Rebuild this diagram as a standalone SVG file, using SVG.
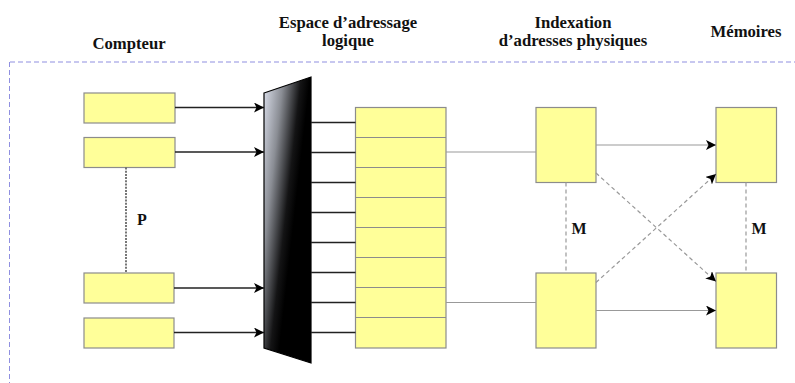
<svg xmlns="http://www.w3.org/2000/svg" width="795" height="383" viewBox="0 0 795 383">
  <style>
    .box { fill: #ffff99; stroke: #8c8c8c; stroke-width: 1.2; }
    .head { font-family: "Liberation Serif", "Times New Roman", serif; font-weight: bold; font-size: 16.7px; fill: #111; text-anchor: middle; }
    .lbl { font-family: "Liberation Serif", "Times New Roman", serif; font-weight: bold; font-size: 16px; fill: #111; text-anchor: middle; }
    .frame { fill: none; stroke: #8f8fe0; stroke-width: 1; stroke-dasharray: 5 3; }
    .dark { stroke: #222; stroke-width: 1.4; fill: none; }
    .thin { stroke: #999; stroke-width: 1.2; fill: none; }
    .dash { stroke: #999; stroke-width: 1.2; fill: none; stroke-dasharray: 4 3; }
    .dot { stroke: #555; stroke-width: 1.6; fill: none; stroke-dasharray: 2 1.2; }
  </style>
  <defs>
    <marker id="arrow" viewBox="0 0 10 10" refX="10" refY="5" markerWidth="10" markerHeight="10" markerUnits="userSpaceOnUse" orient="auto">
      <path d="M0,0 L10,5 L0,10 L2.5,5 Z" fill="#000"/>
    </marker>
    <linearGradient id="muxFill" gradientUnits="userSpaceOnUse" x1="264" y1="92" x2="308" y2="97">
      <stop offset="0" stop-color="#d6dae6"/>
      <stop offset="0.4" stop-color="#8a8d94"/>
      <stop offset="0.8" stop-color="#141415"/>
      <stop offset="1" stop-color="#000"/>
    </linearGradient>
  </defs>

  <!-- column headings -->
  <g id="headings">
    <text class="head" x="129" y="49">Compteur</text>
    <text class="head" x="348" y="28">Espace d’adressage</text>
    <text class="head" x="348" y="46">logique</text>
    <text class="head" x="573" y="28">Indexation</text>
    <text class="head" x="573" y="46">d’adresses physiques</text>
    <text class="head" x="746" y="37">Mémoires</text>
  </g>

  <!-- dashed frame -->
  <g id="frame">
    <line class="frame" x1="10" y1="62" x2="795" y2="62"/>
    <line class="frame" x1="9.5" y1="62" x2="9.5" y2="383"/>
  </g>

  <!-- counter registers -->
  <g id="counter-1"><rect class="box" x="84" y="93" width="91" height="30"/></g>
  <g id="counter-2"><rect class="box" x="84" y="137.5" width="91" height="30"/></g>
  <g id="counter-3"><rect class="box" x="84" y="273" width="90" height="30"/></g>
  <g id="counter-4"><rect class="box" x="84" y="318" width="90" height="30"/></g>
  <g id="label-p"><text class="lbl" x="142" y="225">P</text></g>

  <!-- multiplexer -->
  <g id="mux">
    <polygon points="264,93 311,77 311,363 264,348" fill="url(#muxFill)" stroke="#000" stroke-width="1.2"/>
  </g>

  <!-- logical address table -->
  <g id="logical-space">
    <rect class="box" x="355.5" y="107.5" width="90.5" height="240.5"/>
    <g stroke="#8c8c8c" stroke-width="1.2">
      <line x1="355.5" y1="137.5" x2="446" y2="137.5"/>
      <line x1="355.5" y1="167.5" x2="446" y2="167.5"/>
      <line x1="355.5" y1="197.5" x2="446" y2="197.5"/>
      <line x1="355.5" y1="227.5" x2="446" y2="227.5"/>
      <line x1="355.5" y1="257.5" x2="446" y2="257.5"/>
      <line x1="355.5" y1="287.5" x2="446" y2="287.5"/>
      <line x1="355.5" y1="317.5" x2="446" y2="317.5"/>
    </g>
  </g>

  <!-- physical address indexes -->
  <g id="index-1"><rect class="box" x="536" y="107.5" width="60" height="75"/></g>
  <g id="index-2"><rect class="box" x="536" y="273" width="60" height="75"/></g>
  <g id="label-m1"><text class="lbl" x="579" y="234">M</text></g>

  <!-- memories -->
  <g id="memory-1"><rect class="box" x="716" y="107.5" width="60.5" height="75"/></g>
  <g id="memory-2"><rect class="box" x="716" y="273" width="60.5" height="75"/></g>
  <g id="label-m2"><text class="lbl" x="759" y="234">M</text></g>

  <!-- connectors -->
  <g id="connectors">
    <line class="dark" x1="175" y1="107.5" x2="264" y2="107.5" marker-end="url(#arrow)"/>
    <line class="dark" x1="175" y1="152" x2="264" y2="152" marker-end="url(#arrow)"/>
    <line class="dark" x1="174" y1="288" x2="264" y2="288" marker-end="url(#arrow)"/>
    <line class="dark" x1="174" y1="332.5" x2="264" y2="332.5" marker-end="url(#arrow)"/>
    <line class="dot" x1="126" y1="167.5" x2="126" y2="273"/>

    <g class="dark">
      <line x1="311" y1="122.5" x2="355.5" y2="122.5"/>
      <line x1="311" y1="152.5" x2="355.5" y2="152.5"/>
      <line x1="311" y1="182.5" x2="355.5" y2="182.5"/>
      <line x1="311" y1="212.5" x2="355.5" y2="212.5"/>
      <line x1="311" y1="242.5" x2="355.5" y2="242.5"/>
      <line x1="311" y1="272.5" x2="355.5" y2="272.5"/>
      <line x1="311" y1="302.5" x2="355.5" y2="302.5"/>
      <line x1="311" y1="332.5" x2="355.5" y2="332.5"/>
    </g>

    <line class="thin" x1="446" y1="152" x2="536" y2="152"/>
    <line class="thin" x1="446" y1="302.5" x2="536" y2="302.5"/>

    <line class="dash" x1="566" y1="182.5" x2="566" y2="273"/>
    <line class="dash" x1="746" y1="182.5" x2="746" y2="273"/>

    <line class="thin" x1="596" y1="145" x2="716" y2="145" marker-end="url(#arrow)"/>
    <line class="thin" x1="596" y1="310.5" x2="716" y2="310.5" marker-end="url(#arrow)"/>
    <line class="dash" x1="596" y1="173" x2="716" y2="281.5" marker-end="url(#arrow)"/>
    <line class="dash" x1="596" y1="282.5" x2="716" y2="174" marker-end="url(#arrow)"/>
  </g>
</svg>
